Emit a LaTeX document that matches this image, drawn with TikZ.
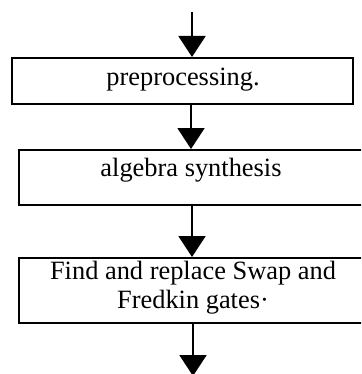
\documentclass[tikz,border=0pt]{standalone}
\usepackage{fontspec}
\setmainfont{Liberation Serif}
\usepackage{tikz}
\usetikzlibrary{arrows.meta,positioning,calc}
\tikzset{>={Triangle[width=13.5pt,length=10.5pt]}}
\tikzset{
  stepbox/.style={draw, line width=1pt, inner sep=0pt},
  flowarrow/.style={->, line width=1pt},
  boxtext/.style={font=\fontsize{13.2}{14.5}\selectfont, align=center, inner sep=0pt}
}

\begin{document}
\begin{tikzpicture}[x=0.5pt, y=-0.5pt]

% Marco de la figura (las cajas se salen por la derecha)
\clip (0,0) rectangle (361,374);

% Cajas
\node[stepbox, minimum width=170.5pt, minimum height=23pt] (prep) at (182.5,81) {};
\node[stepbox, minimum width=173.5pt, minimum height=27.5pt] (alg) at (192.5,177.5) {};
\node[stepbox, minimum width=173.5pt, minimum height=32.5pt] (swap) at (192.5,290.5) {};

% Textos
\node[boxtext] (preptext) at (183,80) {preprocessing.};
\node[boxtext] (algtext) at (191,170) {algebra synthesis};
\node[boxtext] (swaptext) at (193,287.5) {Find and replace Swap and\\Fredkin gates\textperiodcentered};

% Entrada, salida y ejes de las flechas
\coordinate (in) at (192,12);
\coordinate (out) at (193,376);
\coordinate (xa) at (191,0);
\coordinate (xb) at (192,0);

% Flechas
\draw[flowarrow] (in) -- (in |- prep.north);
\draw[flowarrow] (prep.south -| xa) -- (alg.north -| xa);
\draw[flowarrow] (alg.south -| xb) -- (swap.north -| xb);
\draw[flowarrow] (swap.south -| out) -- (out);

\end{tikzpicture}
\end{document}
